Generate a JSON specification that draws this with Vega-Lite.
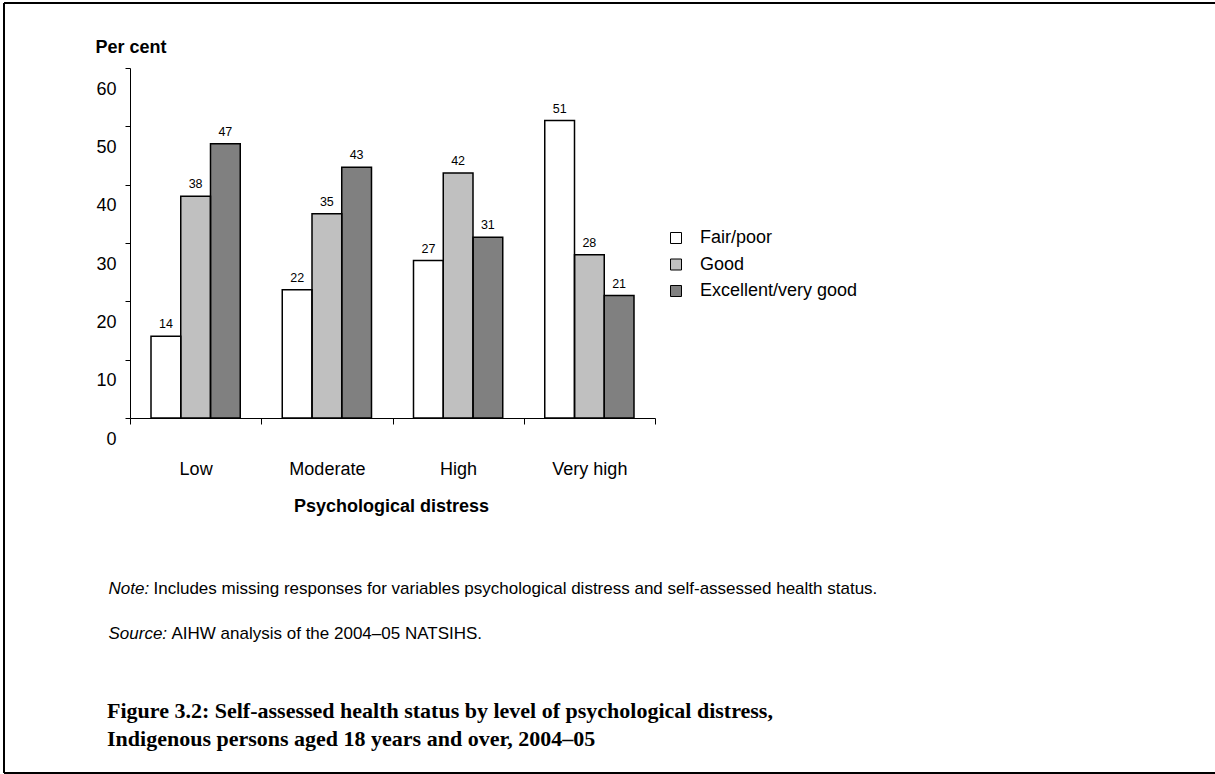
{
  "$schema": "https://vega.github.io/schema/vega-lite/v6.json",
  "width": 1211,
  "height": 770,
  "autosize": {"type": "none"},
  "padding": {"left": 4, "top": 3, "right": 0, "bottom": 1},
  "background": "white",
  "config": {
    "view": {"stroke": null},
    "font": "Liberation Sans",
    "axis": {"grid": false, "domainColor": "black", "tickColor": "black", "labelColor": "black", "titleColor": "black"}
  },
  "title": {
    "text": ["Figure 3.2: Self-assessed health status by level of psychological distress,", "Indigenous persons aged 18 years and over, 2004–05"],
    "orient": "bottom",
    "anchor": "start",
    "frame": "group",
    "offset": -72,
    "dx": 103,
    "font": "Liberation Serif",
    "fontSize": 22,
    "fontWeight": "bold",
    "color": "black",
    "lineHeight": 28
  },
  "data": {
    "values": [
      {"level": "Low", "status": "Fair/poor", "pct": 14},
      {"level": "Low", "status": "Good", "pct": 38},
      {"level": "Low", "status": "Excellent/very good", "pct": 47},
      {"level": "Moderate", "status": "Fair/poor", "pct": 22},
      {"level": "Moderate", "status": "Good", "pct": 35},
      {"level": "Moderate", "status": "Excellent/very good", "pct": 43},
      {"level": "High", "status": "Fair/poor", "pct": 27},
      {"level": "High", "status": "Good", "pct": 42},
      {"level": "High", "status": "Excellent/very good", "pct": 31},
      {"level": "Very high", "status": "Fair/poor", "pct": 51},
      {"level": "Very high", "status": "Good", "pct": 28},
      {"level": "Very high", "status": "Excellent/very good", "pct": 21}
    ]
  },
  "resolve": {
    "scale": {"x": "independent", "y": "independent"},
    "axis": {"x": "independent", "y": "independent"}
  },
  "layer": [
    {
      "resolve": {"axis": {"x": "independent", "y": "independent"}},
      "layer": [
        {
          "mark": {"type": "bar"},
          "encoding": {
            "x": {
              "field": "level", "type": "nominal",
              "sort": ["Low", "Moderate", "High", "Very high"],
              "scale": {"range": [126, 651], "paddingInner": 0, "paddingOuter": 0},
              "axis": {
                "orient": "bottom", "offset": -355,
                "tickBand": "extent", "tickSize": 6,
                "labelFontSize": 18, "labelPadding": 50, "labelBaseline": "alphabetic", "labelAngle": 0,
                "title": "Psychological distress",
                "titleFontSize": 18, "titleFontWeight": "bold",
                "titleX": 387, "titleY": 93, "titleAlign": "center", "titleBaseline": "alphabetic"
              }
            },
            "xOffset": {
              "field": "status", "type": "nominal",
              "sort": ["Fair/poor", "Good", "Excellent/very good"],
              "scale": {"paddingInner": 0, "paddingOuter": 0.706}
            },
            "y": {
              "field": "pct", "type": "quantitative",
              "scale": {"domain": [0, 60], "range": [415, 65], "nice": false},
              "axis": {
                "orient": "left", "offset": -126,
                "values": [0, 10, 20, 30, 40, 50, 60],
                "tickSize": 5,
                "labelFontSize": 18, "labelPadding": 9, "labelOffset": 21, "labelBaseline": "middle",
                "title": "Per cent",
                "titleAngle": 0, "titleAlign": "left", "titleBaseline": "alphabetic",
                "titleX": -35, "titleY": 49,
                "titleFontSize": 18, "titleFontWeight": "bold"
              }
            },
            "fill": {
              "field": "status", "type": "nominal",
              "sort": ["Fair/poor", "Good", "Excellent/very good"],
              "scale": {"domain": ["Fair/poor", "Good", "Excellent/very good"], "range": ["#ffffff", "#c0c0c0", "#808080"]},
              "legend": {
                "orient": "none", "legendX": 663, "legendY": 226,
                "title": null, "padding": 0,
                "symbolType": "square", "symbolSize": 121,
                "symbolStrokeColor": "black", "symbolStrokeWidth": 1,
                "labelFontSize": 18, "labelColor": "black", "labelOffset": 15,
                "rowPadding": 8.5
              }
            }
          }
        },
        {
          "mark": {"type": "bar", "fill": null, "fillOpacity": 0, "stroke": "black", "strokeWidth": 1.5},
          "encoding": {
            "x": {
              "field": "level", "type": "nominal",
              "sort": ["Low", "Moderate", "High", "Very high"],
              "axis": {
                "orient": "bottom", "offset": -355,
                "domain": false, "ticks": false, "labels": false,
                "title": "Includes missing responses for variables psychological distress and self-assessed health status.",
                "titleFontSize": 17, "titleFontWeight": "normal",
                "titleX": 149, "titleY": 175, "titleAlign": "left", "titleBaseline": "alphabetic"
              }
            },
            "xOffset": {
              "field": "status", "type": "nominal",
              "sort": ["Fair/poor", "Good", "Excellent/very good"]
            },
            "y": {
              "field": "pct", "type": "quantitative",
              "axis": {
                "orient": "left", "offset": 0,
                "domain": false, "ticks": false, "labels": false,
                "title": "AIHW analysis of the 2004–05 NATSIHS.",
                "titleAngle": 0, "titleAlign": "left", "titleBaseline": "alphabetic",
                "titleX": 167, "titleY": 635,
                "titleFontSize": 17, "titleFontWeight": "normal"
              }
            }
          }
        },
        {
          "mark": {"type": "text", "fontSize": 12.5, "dy": -8, "baseline": "alphabetic", "color": "black"},
          "encoding": {
            "x": {
              "field": "level", "type": "nominal",
              "sort": ["Low", "Moderate", "High", "Very high"],
              "axis": {
                "orient": "bottom", "offset": -355,
                "domain": false, "ticks": false, "labels": false,
                "title": "Note:",
                "titleFontSize": 17, "titleFontWeight": "normal", "titleFontStyle": "italic",
                "titleX": 104, "titleY": 175, "titleAlign": "left", "titleBaseline": "alphabetic"
              }
            },
            "xOffset": {
              "field": "status", "type": "nominal",
              "sort": ["Fair/poor", "Good", "Excellent/very good"]
            },
            "y": {
              "field": "pct", "type": "quantitative",
              "axis": {
                "orient": "left", "offset": 0,
                "domain": false, "ticks": false, "labels": false,
                "title": "Source:",
                "titleAngle": 0, "titleAlign": "left", "titleBaseline": "alphabetic",
                "titleX": 104, "titleY": 635,
                "titleFontSize": 17, "titleFontWeight": "normal", "titleFontStyle": "italic"
              }
            },
            "text": {"field": "pct", "type": "quantitative"}
          }
        }
      ]
    },
    {
      "mark": {"type": "point", "opacity": 0},
      "encoding": {
        "x": {
          "field": "level", "type": "nominal",
          "scale": {"range": [0, 1211], "paddingInner": 0, "paddingOuter": 0},
          "axis": {"orient": "top", "offset": 0, "translate": 0, "domainWidth": 2, "ticks": false, "labels": false, "title": null}
        },
        "y": {
          "field": "pct", "type": "quantitative",
          "scale": {"domain": [0, 60], "range": [770, 0], "nice": false},
          "axis": {"orient": "left", "offset": 0, "translate": 0, "domainWidth": 2, "ticks": false, "labels": false, "title": null}
        }
      }
    },
    {
      "mark": {"type": "point", "opacity": 0},
      "encoding": {
        "x": {
          "field": "level", "type": "nominal",
          "scale": {"range": [0, 1211], "paddingInner": 0, "paddingOuter": 0},
          "axis": {"orient": "bottom", "offset": 0, "translate": 0, "domainWidth": 2, "ticks": false, "labels": false, "title": null}
        },
        "y": {
          "field": "pct", "type": "quantitative",
          "scale": {"domain": [0, 60], "range": [770, 0], "nice": false},
          "axis": null
        }
      }
    }
  ]
}
